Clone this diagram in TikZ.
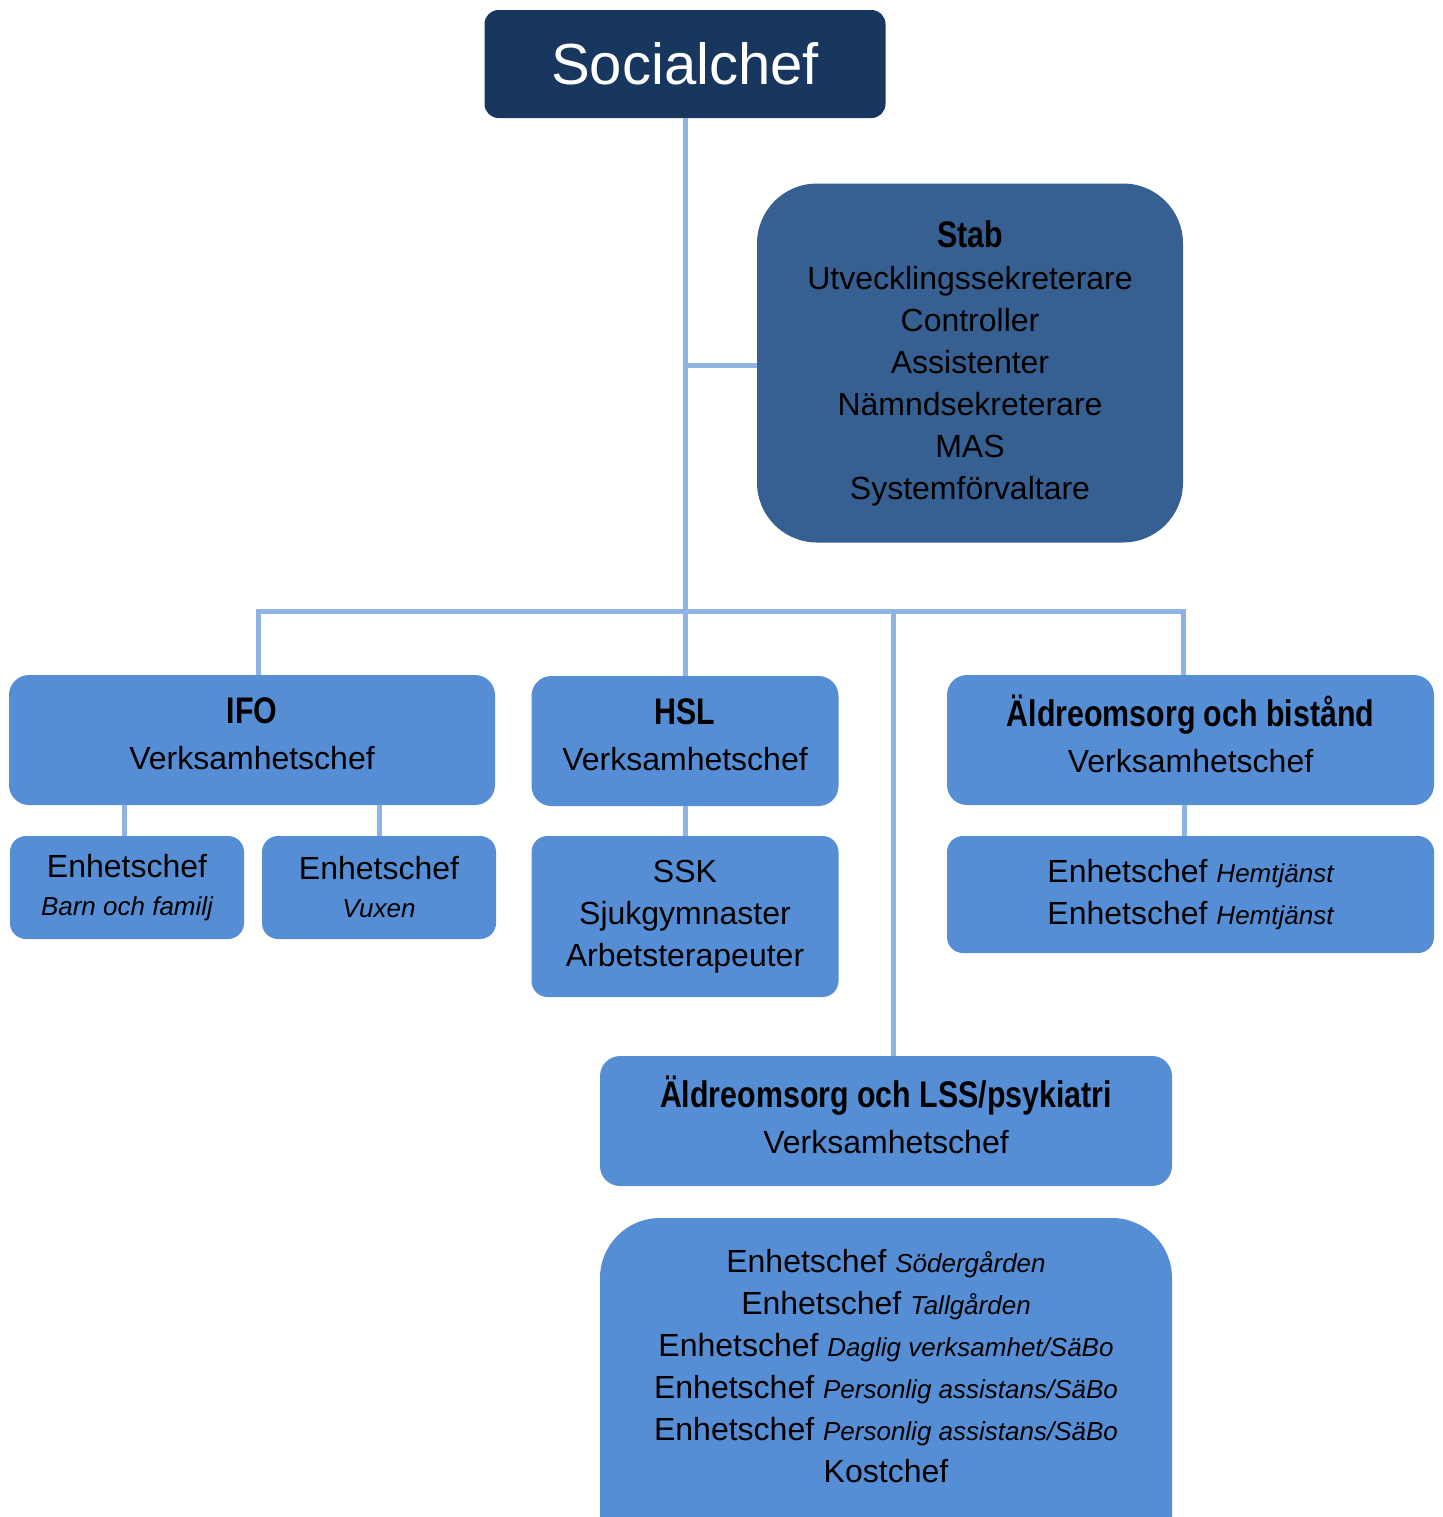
\documentclass[tikz,border=0pt]{standalone}
\usepackage{fontspec}
\setmainfont{Liberation Sans}
\newfontfamily\narrowfont[FakeStretch=0.82]{Liberation Sans}
\usepackage{xcolor}
\usetikzlibrary{positioning}

\definecolor{navy}{RGB}{23,55,94}
\definecolor{stabblue}{RGB}{55,96,146}
\definecolor{unitblue}{RGB}{85,142,213}
\definecolor{linkblue}{RGB}{141,180,226}

\newcommand{\hd}[1]{{\narrowfont\bfseries\fontsize{18.5}{21}\selectfont #1}}
\newcommand{\unitname}[1]{{\itshape\fontsize{13}{21}\selectfont #1}}
\newcommand{\vchef}{Verksamhetschef\rule[-6pt]{0pt}{0pt}}

\begin{document}
\begin{tikzpicture}[
    x=0.5pt, y=-0.5pt,
    every node/.style={inner sep=0pt, align=center, font=\fontsize{16}{21}\selectfont},
    topbox/.style={rectangle, fill=navy, rounded corners=7pt, text=white,
                   minimum width=200.5pt, minimum height=54pt, font=\fontsize{29}{34}\selectfont},
    stabbox/.style={rectangle, fill=stabblue, rounded corners=30pt,
                    minimum width=213pt, minimum height=179.5pt},
    headbox/.style={rectangle, fill=unitblue, rounded corners=10pt, minimum height=65pt},
    unitbox/.style={rectangle, fill=unitblue, rounded corners=8pt},
    bigbox/.style={rectangle, fill=unitblue, rounded corners=30pt},
    link/.style={draw=linkblue, line width=2.5pt}
]
\useasboundingbox (0,0) rectangle (1442,1517);

\coordinate (bus)  at (685,611);
\coordinate (stj)  at (685,365.5);
\coordinate (lssj) at (893,611);

\node[topbox]  (soc) at (685,64)    {Socialchef};
\node[stabbox] (stab) at (970,363) {\hd{Stab}\\Utvecklingssekreterare\\Controller\\Assistenter\\N\"amndsekreterare\\MAS\\Systemf\"orvaltare};

\node[headbox, minimum width=243pt]   (ifo) at (252,740)    {\hd{IFO}\\[2pt]\vchef};
\node[headbox, minimum width=153.5pt] (hsl) at (685,741)    {\hd{HSL}\\[2pt]\vchef};
\node[headbox, minimum width=243.5pt] (abi) at (1190.5,740) {\hd{\"Aldreomsorg och bist\aa nd}\\[2pt]\vchef};
\node[headbox, minimum width=286pt]   (lss) at (886,1121)   {\hd{\"Aldreomsorg och LSS/psykiatri}\\[2pt]\vchef};

\node[unitbox, minimum width=117pt, minimum height=51.5pt] (barn) at (127,887.5) {Enhetschef\\[-2pt]\unitname{Barn och familj}};
\node[unitbox, minimum width=117pt, minimum height=51.5pt] (vux)  at (379,887.5) {Enhetschef\\[-2pt]\unitname{Vuxen}};
\node[unitbox, minimum width=153.5pt, minimum height=80.5pt] (hslk) at (685,916.5) {SSK\\Sjukgymnaster\\Arbetsterapeuter};
\node[unitbox, minimum width=243.5pt, minimum height=58.5pt] (abik) at (1190.5,894.5) {Enhetschef \unitname{Hemtj\"anst}\\Enhetschef \unitname{Hemtj\"anst}};
\node[bigbox, minimum width=286pt, minimum height=181pt] (lssk) at (886,1399) {};
\node (lsst) at (886,1366) {Enhetschef \unitname{S\"oderg\aa rden}\\Enhetschef \unitname{Tallg\aa rden}\\Enhetschef \unitname{Daglig verksamhet/S\"aBo}\\Enhetschef \unitname{Personlig assistans/S\"aBo}\\Enhetschef \unitname{Personlig assistans/S\"aBo}\\Kostchef};

% connectors
\draw[link] (soc.south) -- (hsl.north);
\draw[link] (stj) -- (stj -| stab.west);
\draw[link] ([xshift=3pt]ifo.north) |- (bus) -| ([xshift=-3.5pt]abi.north);
\draw[link] (lssj) -- (lssj |- lss.north);
\draw[link] ([xshift=-1.5pt]ifo.south -| barn.north) -- ([xshift=-1.5pt]barn.north);
\draw[link] (ifo.south -| vux.north) -- (vux.north);
\draw[link] (hsl.south) -- (hslk.north);
\draw[link] ([xshift=-3pt]abi.south) -- ([xshift=-3pt]abik.north);
\end{tikzpicture}
\end{document}
